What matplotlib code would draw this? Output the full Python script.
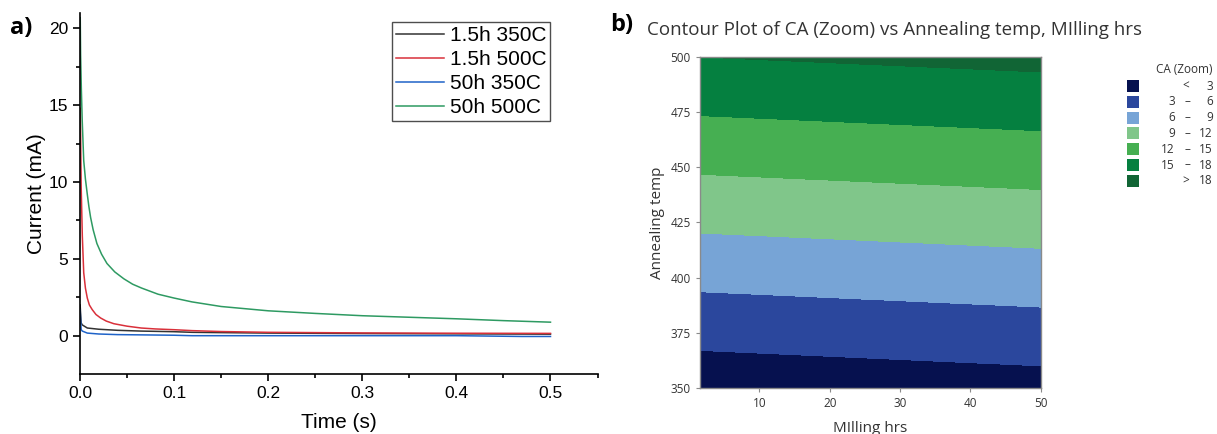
import numpy as np
import matplotlib
matplotlib.use("Agg")
import matplotlib.pyplot as plt
from matplotlib.patches import Rectangle

# ---- panel a: chronoamperometry curves ----
t_green = [0.0003, 0.0007, 0.0015, 0.0024, 0.004, 0.0058, 0.0078, 0.0095, 0.0113, 0.014,
           0.018, 0.023, 0.0287, 0.037, 0.0467, 0.056, 0.0655, 0.083, 0.1, 0.119, 0.15,
           0.2, 0.25, 0.3, 0.35, 0.4, 0.45, 0.5]
i_green = [20.7, 18.3, 16.0, 14.0, 11.4, 10.2, 9.2, 8.4, 7.7, 6.9,
           6.0, 5.3, 4.7, 4.15, 3.7, 3.35, 3.1, 2.7, 2.45, 2.2, 1.9,
           1.62, 1.45, 1.3, 1.2, 1.1, 0.98, 0.88]

t_red = [0.0004, 0.0008, 0.0013, 0.0025, 0.004, 0.0058, 0.0078, 0.01, 0.013, 0.017,
         0.022, 0.028, 0.036, 0.05, 0.065, 0.08, 0.1, 0.119, 0.15, 0.2, 0.3, 0.4, 0.5]
i_red = [14.8, 12.5, 9.7, 6.5, 4.1, 3.1, 2.45, 2.0, 1.7, 1.38,
         1.15, 0.95, 0.78, 0.62, 0.5, 0.44, 0.39, 0.33, 0.27, 0.22, 0.18, 0.16, 0.15]

t_black = [0.0002, 0.0006, 0.0013, 0.0025, 0.0078, 0.02, 0.04, 0.065, 0.1, 0.119,
           0.15, 0.2, 0.3, 0.4, 0.5]
i_black = [2.0, 1.5, 0.83, 0.7, 0.5, 0.42, 0.35, 0.3, 0.26, 0.22,
           0.2, 0.17, 0.14, 0.12, 0.1]

t_blue = [0.0002, 0.0006, 0.0013, 0.0025, 0.0078, 0.02, 0.04, 0.1, 0.119,
          0.2, 0.3, 0.4, 0.47, 0.5]
i_blue = [1.7, 1.1, 0.4, 0.3, 0.17, 0.11, 0.07, 0.03, 0.0,
          0.0, 0.0, 0.0, -0.05, -0.05]

series_labels = ["1.5h 350C", "1.5h 500C", "50h 350C", "50h 500C"]

# ---- panel b: response surface corner values (CA) ----
milling_hrs = [1.5, 50]
anneal_temp = [350, 500]
ca_grid = [[1.08, 1.87],     # 350 C
           [18.0, 18.77]]    # 500 C
ca_levels = [-100, 3, 6, 9, 12, 15, 18, 100]
ca_band_labels = [("<", "3"), ("3", "6"), ("6", "9"), ("9", "12"),
                  ("12", "15"), ("15", "18"), (">", "18")]
ca_colors = ["#06114f", "#2b479d", "#77a4d6", "#80c68a", "#46af52", "#058040", "#116535"]

fig = plt.figure(figsize=(12.17, 4.34), dpi=100)

# ---------------- a) ----------------
plt.rcParams["font.family"] = ["Liberation Sans", "DejaVu Sans"]
ax1 = fig.add_axes([0.0657, 0.138, 0.4253, 0.832])
ax1.plot(t_black, i_black, color="#333333", lw=1.1, label=series_labels[0])
ax1.plot(t_red, i_red, color="#d9303a", lw=1.1, label=series_labels[1])
ax1.plot(t_blue, i_blue, color="#1f63c8", lw=1.1, label=series_labels[2])
ax1.plot(t_green, i_green, color="#2e9a62", lw=1.1, label=series_labels[3])
ax1.set_xlim(0, 0.55)
ax1.set_ylim(-2.5, 21)
ax1.set_xticks([0, 0.1, 0.2, 0.3, 0.4, 0.5])
ax1.set_xticks(np.arange(0.05, 0.56, 0.1), minor=True)
ax1.set_yticks([0, 5, 10, 15, 20])
ax1.set_yticks([2.5, 7.5, 12.5, 17.5], minor=True)
ax1.spines["top"].set_visible(False)
ax1.spines["right"].set_visible(False)
for s in ("left", "bottom"):
    ax1.spines[s].set_linewidth(1.2)
ax1.tick_params(which="major", length=5, width=1.2, labelsize=12.5)
ax1.tick_params(which="minor", length=3, width=1.2)
ax1.set_xlabel("Time (s)", fontsize=15, labelpad=9)
ax1.set_ylabel("Current (mA)", fontsize=15, labelpad=2)
leg = ax1.legend(loc="upper left", bbox_to_anchor=(0.603, 0.975), fontsize=15,
                 frameon=True, fancybox=False, edgecolor="#222222",
                 handlelength=2.3, handletextpad=0.3, borderpad=0.18,
                 labelspacing=0.25, borderaxespad=0)
leg.get_frame().set_linewidth(1.0)
fig.text(0.008, 0.935, "a)", fontsize=17, fontweight="bold", va="center",
         family=["Open Sans", "DejaVu Sans"])

# ---------------- b) ----------------
sans = ["Open Sans", "DejaVu Sans"]
ax2 = fig.add_axes([0.575, 0.106, 0.280, 0.763])
ax2.contourf(milling_hrs, anneal_temp, ca_grid, levels=ca_levels, colors=ca_colors)
ax2.set_xlim(1.5, 50)
ax2.set_ylim(350, 500)
ax2.set_xticks([10, 20, 30, 40, 50])
ax2.set_yticks([350, 375, 400, 425, 450, 475, 500])
for s in ax2.spines.values():
    s.set_color("#8a8a8a")
    s.set_linewidth(1.0)
ax2.tick_params(length=3, width=0.8, color="#8a8a8a", labelsize=8.5, labelcolor="#333333")
for lab in ax2.get_xticklabels() + ax2.get_yticklabels():
    lab.set_family(sans)
ax2.set_xlabel("MIlling hrs", fontsize=11, family=sans, color="#333333", labelpad=8)
ax2.set_ylabel("Annealing temp", fontsize=11, family=sans, color="#333333", labelpad=4)
fig.text(0.5015, 0.942, "b)", fontsize=17, fontweight="bold", va="center", family=sans)
fig.text(0.532, 0.93, "Contour Plot of CA (Zoom) vs Annealing temp, MIlling hrs",
         fontsize=13.5, family=sans, color="#333333", va="center")

# legend for the contour bands
fig.text(0.9965, 0.832, "CA (Zoom)", fontsize=8.5, family=sans, ha="right", color="#333333")
for k, (lo, hi) in enumerate(ca_band_labels):
    yc = 1 - (86 + k * 15.8) / 434
    fig.patches.append(Rectangle((1127 / 1217, yc - 6 / 434), 12 / 1217, 12 / 434,
                                 transform=fig.transFigure, facecolor=ca_colors[k],
                                 edgecolor="none"))
    fig.text(0.9965, yc, hi, fontsize=8.5, family=sans, ha="right", va="center", color="#333333")
    if lo in ("<", ">"):
        fig.text(0.9775, yc, lo, fontsize=8.5, family=sans, ha="right", va="center", color="#333333")
    else:
        fig.text(0.9655, yc, lo, fontsize=8.5, family=sans, ha="right", va="center", color="#333333")
        fig.text(0.9755, yc, "\u2013", fontsize=8.5, family=sans, ha="center", va="center", color="#333333")

fig.savefig("out.png", dpi=100)
